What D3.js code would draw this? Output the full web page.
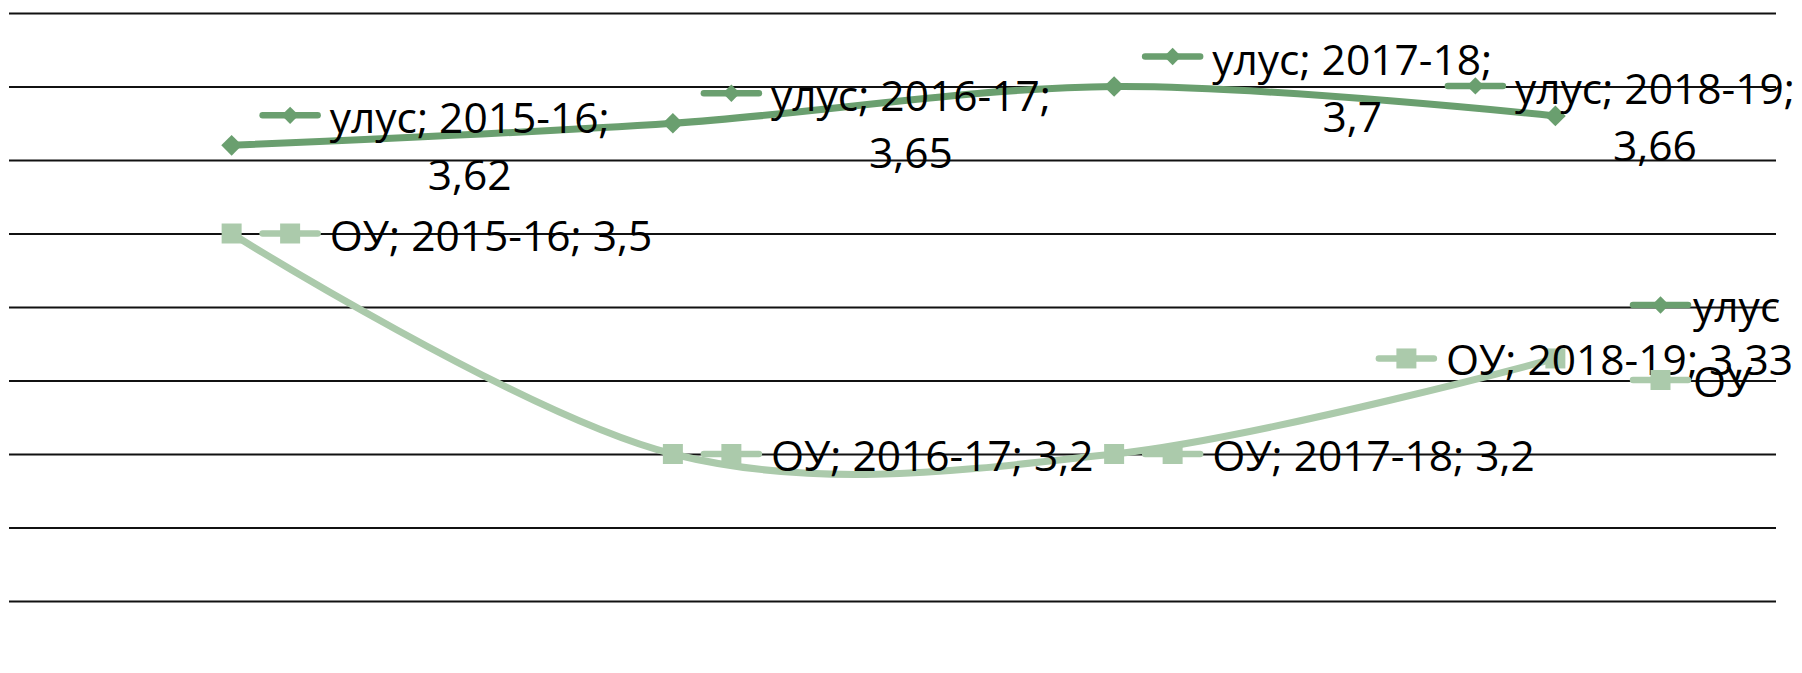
<!DOCTYPE html>
<html>
<head>
<meta charset="utf-8">
<script src="https://cdn.jsdelivr.net/npm/d3@7"></script>
<style>
  body { margin: 0; background: #fff; }
  svg text { font-family: "Open Sans", "Liberation Sans", sans-serif; fill: #000; }
</style>
</head>
<body>
<script>
// data
var categories = ["2015-16", "2016-17", "2017-18", "2018-19"];
var seriesNames = ["улус", "ОУ"];
var ulusValues = [3.62, 3.65, 3.7, 3.66];
var ouValues = [3.5, 3.2, 3.2, 3.33];
var yTicks = [3.0, 3.1, 3.2, 3.3, 3.4, 3.5, 3.6, 3.7, 3.8];

var w = 1802;
var h = 673;
var plotLeft = 11, plotRight = 1776, plotTop = 13, plotBottom = 601;
var fontSize = 42.5;

var colors = { "улус": "#6a9f6f", "ОУ": "#abcaab" };

var svg = d3.select("body")
    .append("svg")
    .attr("width", w)
    .attr("height", h);

var xScale = d3.scalePoint()
    .domain(categories)
    .range([plotLeft, plotRight])
    .padding(0.5);

var yScale = d3.scaleLinear()
    .domain([3.0, 3.8])
    .range([plotBottom, plotTop]);

// gridlines
var grid = svg.append("g")
    .attr("transform", "translate(" + (plotLeft - 2) + ",0)")
    .call(d3.axisLeft(yScale)
        .tickValues(yTicks)
        .tickSize(-(plotRight - plotLeft + 2))
        .tickFormat(""));
grid.select(".domain").remove();
grid.selectAll(".tick line").attr("stroke", "#111").attr("stroke-width", 1.9);

var series = [
    { name: seriesNames[0], values: ulusValues, marker: "diamond" },
    { name: seriesNames[1], values: ouValues, marker: "square" }
];

function markerPath(type, big) {
    if (type === "diamond") {
        return d3.symbol().type(d3.symbolSquare).size(big ? 215 : 150)();
    }
    return d3.symbol().type(d3.symbolSquare).size(400)();
}

function markerRotate(type) {
    return type === "diamond" ? " rotate(45)" : "";
}

var line = d3.line()
    .x(function (d, i) { return xScale(categories[i]); })
    .y(function (d) { return yScale(d); })
    .curve(d3.curveCardinal.tension(0));

series.forEach(function (s) {
    svg.append("path")
        .datum(s.values)
        .attr("fill", "none")
        .attr("stroke", colors[s.name])
        .attr("stroke-width", 7)
        .attr("stroke-linecap", "round")
        .attr("d", line);

    svg.selectAll(null)
        .data(s.values)
        .enter()
        .append("path")
        .attr("d", markerPath(s.marker, true))
        .attr("transform", function (d, i) {
            return "translate(" + xScale(categories[i]) + "," + yScale(d) + ")" + markerRotate(s.marker);
        })
        .attr("fill", colors[s.name]);
});

function fmt(v) {
    return String(v).replace(".", ",");
}

// legend key: short line with marker
function drawKey(g, x, y, s) {
    g.append("line")
        .attr("x1", x).attr("x2", x + 55)
        .attr("y1", y).attr("y2", y)
        .attr("stroke", colors[s.name])
        .attr("stroke-width", 6.5)
        .attr("stroke-linecap", "round");
    g.append("path")
        .attr("d", markerPath(s.marker, false))
        .attr("transform", "translate(" + (x + 27.5) + "," + y + ")" + markerRotate(s.marker))
        .attr("fill", colors[s.name]);
}

// data labels
var labelLayer = svg.append("g");
series.forEach(function (s, si) {
    s.values.forEach(function (v, i) {
        var px = xScale(categories[i]);
        var py = yScale(v);
        var g = labelLayer.append("g");
        var t = g.append("text").attr("font-size", fontSize);
        var tw;
        if (si === 0) {
            // two-line label
            var first = s.name + "; " + categories[i] + ";";
            t.text(first);
            tw = t.node().getComputedTextLength();
            t.remove();
            var startX = px + 98;
            var shift = Math.min(0, (w - 7) - (startX + tw));
            startX += shift;
            drawKey(g, px + 31 + shift, py - 30, s);
            g.append("text")
                .attr("font-size", fontSize)
                .attr("text-anchor", "middle")
                .attr("x", startX + tw / 2)
                .attr("y", py - 12)
                .text(first);
            g.append("text")
                .attr("font-size", fontSize)
                .attr("text-anchor", "middle")
                .attr("x", startX + tw / 2)
                .attr("y", py - 12 + 57)
                .text(fmt(v));
        } else {
            t.text(s.name + "; " + categories[i] + "; " + fmt(v));
            tw = t.node().getComputedTextLength();
            var sx = px + 98;
            var sh = Math.min(0, (w - 9) - (sx + tw));
            drawKey(g, px + 31 + sh, py, s);
            t.attr("x", sx + sh).attr("y", py + 17);
            t.raise();
        }
    });
});

// legend
var legend = svg.append("g");
series.forEach(function (s, i) {
    var ly = 305 + i * 75;
    drawKey(legend, 1633, ly, s);
    legend.append("text")
        .attr("font-size", fontSize)
        .attr("x", 1693)
        .attr("y", ly + 17)
        .text(s.name);
});
</script>
</body>
</html>
